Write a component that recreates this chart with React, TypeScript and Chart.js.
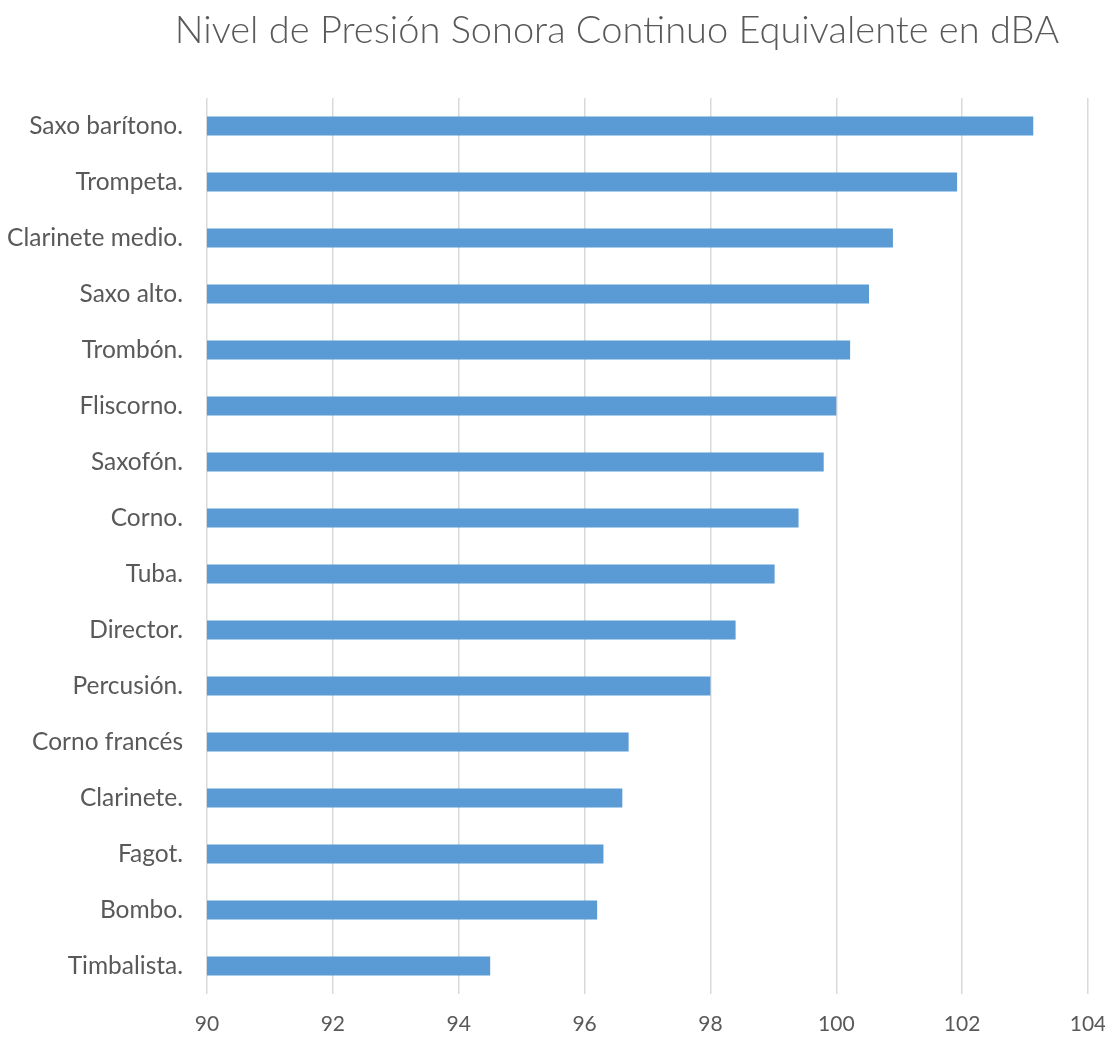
import React, { useEffect, useRef } from "react";
import { Chart, registerables } from "chart.js";

Chart.register(...registerables);

const TITLE = "Nivel de Presión Sonora Continuo Equivalente en dBA";
const categories = [
  "Saxo barítono.",
  "Trompeta.",
  "Clarinete medio.",
  "Saxo alto.",
  "Trombón.",
  "Fliscorno.",
  "Saxofón.",
  "Corno.",
  "Tuba.",
  "Director.",
  "Percusión.",
  "Corno francés",
  "Clarinete.",
  "Fagot.",
  "Bombo.",
  "Timbalista.",
];
const values = [103.13, 101.92, 100.9, 100.52, 100.22, 100.0, 99.8, 99.4, 99.02, 98.4, 98.0, 96.7, 96.6, 96.3, 96.2, 94.5];
const xMin = 90;
const xMax = 104;
const xStep = 2;

const FONT = "Lato, 'Open Sans', sans-serif";
const TEXT = "#595959";

export default function App() {
  const ref = useRef<HTMLCanvasElement | null>(null);
  useEffect(() => {
    if (!ref.current) return;
    const chart = new Chart(ref.current, {
      type: "bar",
      data: {
        labels: categories,
        datasets: [
          {
            data: values,
            backgroundColor: "#5B9BD5",
            borderWidth: 0,
            barPercentage: 0.34,
            categoryPercentage: 1,
          },
        ],
      },
      options: {
        indexAxis: "y",
        animation: false,
        responsive: true,
        maintainAspectRatio: false,
        layout: { padding: { top: 90, bottom: 0, right: 0, left: 0 } },
        plugins: {
          legend: { display: false },
          tooltip: { enabled: false },
          title: { display: false },
        },
        scales: {
          x: {
            min: xMin,
            max: xMax,
            ticks: {
              stepSize: xStep,
              color: TEXT,
              font: { family: FONT, size: 21 },
              padding: 18,
            },
            grid: { color: "#d9d9d9", lineWidth: 1.5, drawTicks: false },
            border: { display: false },
            afterFit: (scale: any) => {
              scale.height = 39;
              scale.paddingRight = 17;
              scale.paddingLeft = 0;
            },
          },
          y: {
            ticks: {
              color: TEXT,
              font: { family: FONT, size: 24.5 },
              padding: 24,
            },
            grid: { display: false, drawTicks: false },
            border: { display: false },
            afterFit: (scale: any) => {
              scale.width = 199;
            },
          },
        },
      },
    });
    return () => chart.destroy();
  }, []);
  return (
    <div style={{ position: "relative", width: 1097, height: 1025 }}>
      <div
        style={{
          position: "absolute",
          top: -2,
          left: 0,
          right: 0,
          paddingLeft: 121,
          textAlign: "center",
          fontFamily: FONT,
          fontWeight: 300,
          fontSize: 38,
          color: TEXT,
          lineHeight: "44px",
        }}
      >
        {TITLE}
      </div>
      <canvas ref={ref} />
    </div>
  );
}
